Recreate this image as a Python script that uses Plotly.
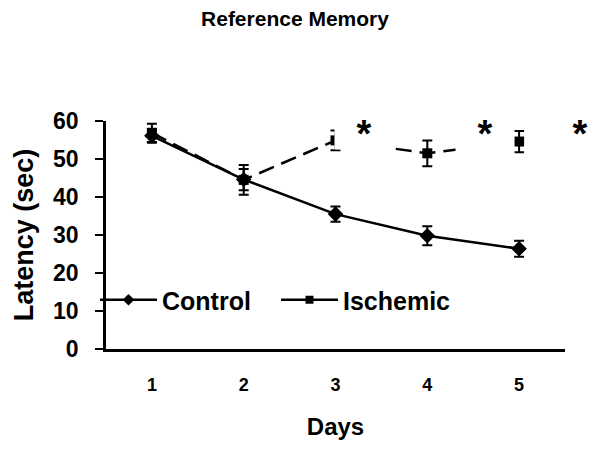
import plotly.graph_objects as go

# Water-maze reference memory: escape latency per training day
days = [1, 2, 3, 4, 5]
control = [56.1, 44.6, 35.5, 29.8, 26.4]
control_sem = [1.8, 2.8, 2.0, 2.5, 2.1]
ischemic = [56.9, 44.5, 54.9, 51.5, 54.6]
ischemic_sem = [2.4, 3.9, 2.6, 3.4, 2.8]
y_ticks = [0, 10, 20, 30, 40, 50, 60]

FONT = "Arial, Liberation Sans, sans-serif"
BLACK = "#000000"

# plot-area geometry in pixels (used to place paper-referenced labels)
W, H = 590, 450
L, R, T, B = 106, 25, 121, 101
PW, PH = W - L - R, H - T - B


def px_x(px):
    return (px - L) / PW


def px_y(py):
    return (H - B - py) / PH


fig = go.Figure()

fig.add_trace(go.Scatter(
    x=days, y=ischemic, mode="lines+markers", name="<b>Ischemic</b>", showlegend=False,
    line=dict(color=BLACK, width=2.5, dash="16px,8px"),
    marker=dict(symbol="square", size=10, color=BLACK),
    error_y=dict(type="data", array=ischemic_sem, color=BLACK, thickness=2, width=5),
))
fig.add_trace(go.Scatter(
    x=days, y=control, mode="lines+markers", name="<b>Control</b>", showlegend=False,
    line=dict(color=BLACK, width=2.5),
    marker=dict(symbol="diamond", size=12, color=BLACK),
    error_y=dict(type="data", array=control_sem, color=BLACK, thickness=2, width=5),
))

# legend entries with smaller sample markers
fig.add_trace(go.Scatter(
    x=[None], y=[None], mode="lines+markers", name="<b>Control</b>",
    line=dict(color=BLACK, width=2.5),
    marker=dict(symbol="diamond", size=9, color=BLACK),
))
fig.add_trace(go.Scatter(
    x=[None], y=[None], mode="lines+markers", name="<b>Ischemic</b>",
    line=dict(color=BLACK, width=2.5),
    marker=dict(symbol="square", size=8, color=BLACK),
))

# significance markers sitting on white label boxes (centre px, width, height)
sig_boxes = [(364, 58, 36), (485, 58, 43), (580, 22, 36)]
for cx, w, h in sig_boxes:
    fig.add_annotation(
        x=px_x(cx), y=px_y(112), xref="paper", yref="paper", text="<b>*</b>",
        showarrow=False, xanchor="center", yanchor="top", valign="top",
        width=w, height=h, bgcolor="white", borderpad=0,
        font=dict(family=FONT, size=38, color=BLACK),
    )

fig.update_layout(
    width=W, height=H,
    margin=dict(l=L, r=R, t=T, b=B),
    paper_bgcolor="white", plot_bgcolor="white",
    font=dict(family=FONT, color=BLACK),
    title=dict(
        text="<b>Reference Memory</b>", x=0.5, xanchor="center",
        y=1 - 19 / H, yanchor="middle",
        font=dict(family=FONT, size=21, color=BLACK),
    ),
    showlegend=True,
    legend=dict(
        orientation="h", x=px_x(276), xanchor="center", y=px_y(300), yanchor="middle",
        bgcolor="rgba(0,0,0,0)", itemwidth=57, entrywidth=109, entrywidthmode="pixels",
        font=dict(family=FONT, size=25, color=BLACK),
        itemsizing="trace", traceorder="normal",
    ),
    xaxis=dict(
        range=[0.5, 5.5], tickvals=days, ticktext=[f"<b>{d}</b>" for d in days],
        showgrid=False, zeroline=False, showline=True, linecolor=BLACK, linewidth=2.5,
        ticks="", ticklabelstandoff=18,
        tickfont=dict(family=FONT, size=18, color=BLACK),
        title=dict(text="<b>Days</b>", font=dict(family=FONT, size=24, color=BLACK), standoff=24),
    ),
    yaxis=dict(
        range=[0, 60], tickvals=y_ticks, ticktext=[f"<b>{v}</b>" for v in y_ticks],
        showgrid=False, zeroline=False, showline=True, linecolor=BLACK, linewidth=2.5,
        ticks="outside", ticklen=8, tickwidth=2, tickcolor=BLACK, ticklabelstandoff=12,
        tickfont=dict(family=FONT, size=23, color=BLACK),
        title=dict(text="<b>Latency (sec)</b>", font=dict(family=FONT, size=27, color=BLACK), standoff=12),
    ),
)

fig.write_html("out.html")
